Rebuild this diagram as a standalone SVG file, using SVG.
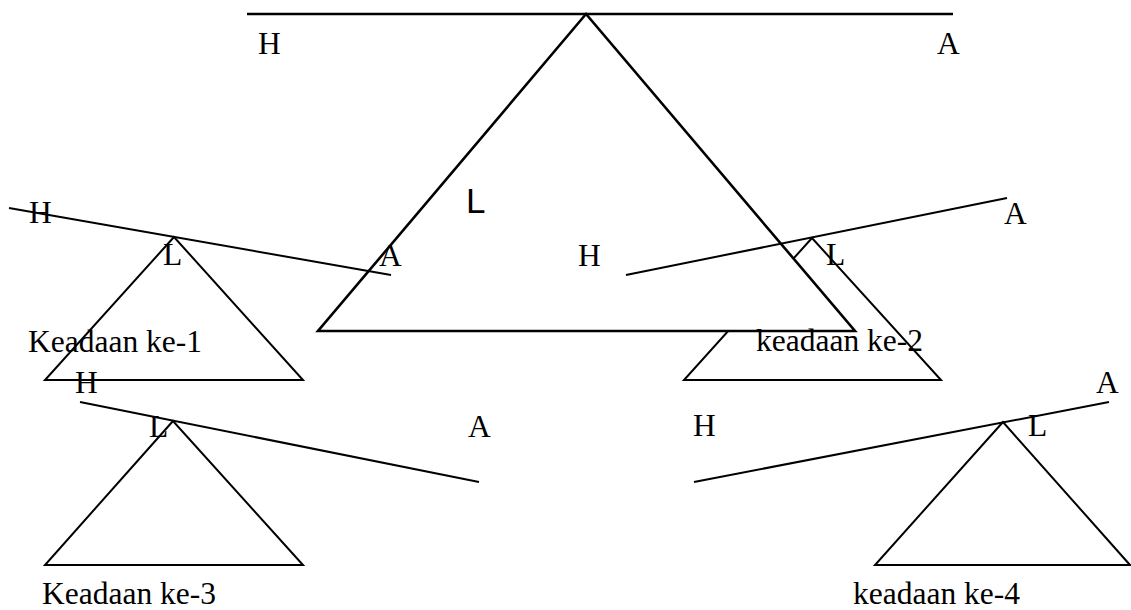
<svg xmlns="http://www.w3.org/2000/svg" width="1131" height="610" viewBox="0 0 1131 610">
<style>
.t{font-family:"Liberation Serif","Times New Roman",serif;font-size:31.5px;fill:#000}
.s{font-family:"Liberation Sans",Arial,sans-serif;font-size:35px;fill:#000}
.thin{fill:#fff;stroke:#000;stroke-width:2}
.thick{fill:#fff;stroke:#000;stroke-width:2.6}
.beam{fill:none;stroke:#000;stroke-width:2}
</style>
<rect width="1131" height="610" fill="#fff"/>
<g id="state1-base"><polygon class="thin" points="174,237 45,380 303,380"/></g>
<g id="state2-base"><polygon class="thin" points="812,238 684,380 941,380"/></g>
<g id="main">
<polygon class="thick" points="586,14 318,331 855,331"/>
</g>
<g id="connectors">
<line class="beam" x1="247" y1="14" x2="953" y2="14" style="stroke-width:2.6"/>
<line class="beam" x1="9" y1="208" x2="391" y2="275"/>
<line class="beam" x1="626" y1="275" x2="1007" y2="198"/>
<line class="beam" x1="80" y1="402" x2="479" y2="482"/>
<line class="beam" x1="694" y1="482" x2="1109" y2="402"/>
</g>
<g id="main-labels">
<text class="t" x="258" y="54">H</text>
<text class="t" x="937" y="54">A</text>
<text class="s" x="466" y="213">L</text>
</g>
<g id="state1">
<text class="t" x="29" y="223">H</text>
<text class="t" x="163" y="265">L</text>
<text class="t" x="379" y="266">A</text>
<text class="t" x="28" y="352">Keadaan ke-1</text>
</g>
<g id="state2">
<text class="t" x="578" y="266">H</text>
<text class="t" x="826" y="265">L</text>
<text class="t" x="1004" y="224">A</text>
<text class="t" x="756" y="351">keadaan ke-2</text>
</g>
<g id="state3">
<polygon class="thin" points="173,421 45,565 303,565"/>
<text class="t" x="75" y="393">H</text>
<text class="t" x="149" y="437">L</text>
<text class="t" x="468" y="437">A</text>
<text class="t" x="42" y="604">Keadaan ke-3</text>
</g>
<g id="state4">
<polygon class="thin" points="1003,422 875,565 1130,565"/>
<text class="t" x="693" y="436">H</text>
<text class="t" x="1028" y="436">L</text>
<text class="t" x="1096" y="393">A</text>
<text class="t" x="853" y="604">keadaan ke-4</text>
</g>
</svg>
